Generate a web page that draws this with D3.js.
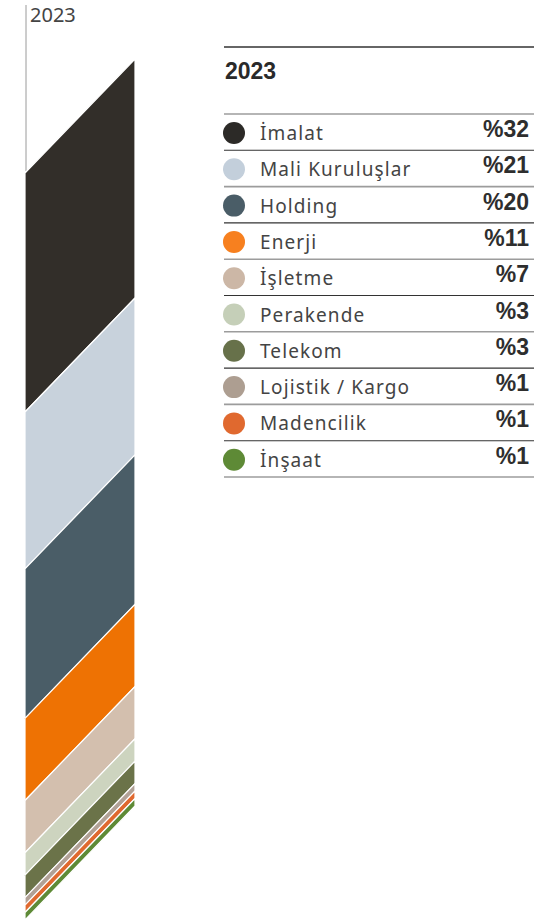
<!DOCTYPE html>
<html>
<head>
<meta charset="utf-8">
<script src="https://cdn.jsdelivr.net/npm/d3@7"></script>
<style>
  html, body { margin: 0; padding: 0; background: #fff; }
  svg { display: block; }
</style>
</head>
<body>
<div id="chart"></div>
<script>
// Sector shares, 2023
const YEAR = '2023';
const sectors = ['İmalat', 'Mali Kuruluşlar', 'Holding', 'Enerji', 'İşletme', 'Perakende', 'Telekom', 'Lojistik / Kargo', 'Madencilik', 'İnşaat'];
const shares  = [32, 21, 20, 11, 7, 3, 3, 1, 1, 1];
const barColors = ['#322e29', '#c8d2dc', '#4a5d67', '#ee7203', '#d3bfae', '#cdd4bf', '#6b7349', '#b1a196', '#e0692f', '#5e8a36'];
const dotColors = ['#2c2a27', '#c3cfdb', '#4a5d67', '#f7801f', '#ccb7a6', '#c5cfb8', '#67714a', '#ad9e91', '#e0692f', '#5e8a36'];

const W = 534, H = 923;
const BAR = { x0: 25, x1: 135, top: 173, bottom: 920, slant: 114 };

const svg = d3.select('#chart').append('svg')
  .attr('width', W).attr('height', H);

// ─── Slanted stacked bar ──────────────────────────────────────────────────
const total = d3.sum(shares);
const y = d3.scaleLinear().domain([0, total]).range([BAR.top, BAR.bottom]);
const cum = d3.cumsum(shares);
const segs = shares.map((v, i) => ({ name: sectors[i], v, start: cum[i] - v, end: cum[i], color: barColors[i] }));

svg.append('line')
  .attr('x1', 26).attr('x2', 26).attr('y1', 5).attr('y2', BAR.top - 2)
  .attr('stroke', '#9a9a9a').attr('stroke-width', 1);

svg.append('text')
  .attr('x', 30).attr('y', 22)
  .attr('font-family', '"Noto Sans", sans-serif')
  .attr('font-size', 20).attr('fill', '#444')
  .text(YEAR);

svg.append('g').selectAll('path')
  .data(segs)
  .join('path')
    .attr('d', d => {
      const a = y(d.start), b = y(d.end);
      return `M${BAR.x0},${a}L${BAR.x1},${a - BAR.slant}L${BAR.x1},${b - BAR.slant}L${BAR.x0},${b}Z`;
    })
    .attr('fill', d => d.color)
    .attr('stroke', '#fff')
    .attr('stroke-width', 1.2)
    .attr('stroke-linejoin', 'miter');

// ─── Legend table ─────────────────────────────────────────────────────────
const LG = { x0: 224, x1: 534, rowTop: 114, rowH: 36.3 };
const lg = svg.append('g');

lg.append('line')
  .attr('x1', LG.x0).attr('x2', LG.x1).attr('y1', 47).attr('y2', 47)
  .attr('stroke', '#333').attr('stroke-width', 1.6);

lg.append('text')
  .attr('x', 225).attr('y', 79)
  .attr('font-family', '"Liberation Sans", Arial, sans-serif')
  .attr('font-weight', 'bold').attr('font-size', 23).attr('fill', '#2a2a2a')
  .text(YEAR);

const rowY = d3.scaleLinear().domain([0, sectors.length]).range([LG.rowTop, LG.rowTop + LG.rowH * sectors.length]);

lg.selectAll('.sep')
  .data(d3.range(sectors.length + 1))
  .join('line')
    .attr('class', 'sep')
    .attr('x1', LG.x0).attr('x2', LG.x1)
    .attr('y1', i => rowY(i)).attr('y2', i => rowY(i))
    .attr('stroke', i => i % 2 === 0 ? '#9c9c9c' : '#333')
    .attr('stroke-width', i => i % 2 === 0 ? 1.6 : 1.1);

const rows = lg.selectAll('.row')
  .data(sectors.map((s, i) => ({ s, v: shares[i], c: dotColors[i], i })))
  .join('g')
    .attr('class', 'row')
    .attr('transform', d => `translate(0,${rowY(d.i)})`);

rows.append('circle')
  .attr('cx', 234).attr('cy', 19).attr('r', 11)
  .attr('fill', d => d.c);

rows.append('text')
  .attr('x', 260).attr('y', 26)
  .attr('font-family', '"Noto Sans", sans-serif')
  .attr('font-size', 19).attr('letter-spacing', 1.1).attr('fill', '#444')
  .text(d => d.s);

rows.append('text')
  .attr('x', 529).attr('y', 23)
  .attr('text-anchor', 'end')
  .attr('font-family', '"Liberation Sans", Arial, sans-serif')
  .attr('font-weight', 'bold').attr('font-size', 23).attr('fill', '#2e2e2e')
  .text(d => '%' + d.v);
</script>
</body>
</html>
